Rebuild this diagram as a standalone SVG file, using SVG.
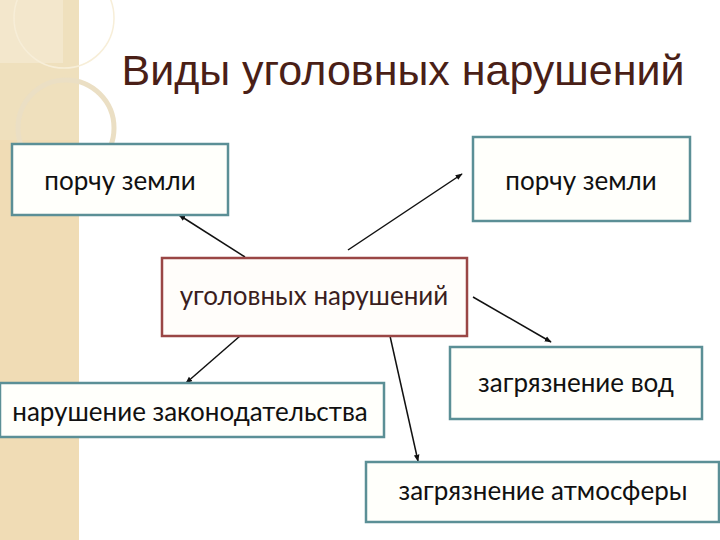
<svg xmlns="http://www.w3.org/2000/svg" width="720" height="540" viewBox="0 0 720 540">
<defs>
<style>
.box{fill:#fffffb;stroke:#5b8f96;stroke-width:2.5}
.center{fill:#fffdfa;stroke:#9a4645;stroke-width:2.5}
.lbl{font-family:Lato,"Open Sans","DejaVu Sans",sans-serif;font-size:26px;fill:#111;text-anchor:middle}
.conn{stroke:#111;stroke-width:1.5;fill:none;marker-end:url(#ah)}
</style>
<marker id="ah" viewBox="0 0 10 10" refX="9" refY="5" markerWidth="7" markerHeight="7" orient="auto" markerUnits="userSpaceOnUse">
<path d="M0,1 L10,5 L0,9 z" fill="#111"/>
</marker>
</defs>
<rect width="720" height="540" fill="#fff"/>
<g id="background">
<rect x="0" y="0" width="79" height="540" fill="#f0dcb5"/>
<rect x="0" y="0" width="79" height="140" fill="#efe0bd"/>
<rect x="0" y="0" width="63" height="63" fill="#f3e7cc"/>
<circle cx="64" cy="18" r="50" fill="none" stroke="#f7eed8" stroke-width="1.5"/>
<circle cx="66" cy="128" r="48" fill="none" stroke="#ebdfc4" stroke-width="5"/>
</g>
<text x="403" y="85" font-family="'Liberation Sans',Arial,sans-serif" font-size="43" fill="#4a1f17" text-anchor="middle">Виды уголовных нарушений</text>
<g id="connectors">
<line class="conn" x1="245" y1="257" x2="179" y2="215"/>
<line class="conn" x1="348" y1="250" x2="462" y2="174"/>
<line class="conn" x1="473" y1="297" x2="551" y2="342"/>
<line class="conn" x1="240" y1="336" x2="186" y2="383"/>
<line class="conn" x1="390" y1="336" x2="418" y2="461"/>
</g>
<g id="n1"><rect class="box" x="12" y="144" width="216" height="71"/><text class="lbl" x="120" y="190">порчу земли</text></g>
<g id="n2"><rect class="box" x="473" y="137" width="217" height="84"/><text class="lbl" x="581" y="190">порчу земли</text></g>
<g id="center"><rect class="center" x="162" y="258" width="305" height="78"/><text class="lbl" x="314" y="305" style="fill:#3a1e1e">уголовных нарушений</text></g>
<g id="n3"><rect class="box" x="450" y="347" width="252" height="72"/><text class="lbl" x="576" y="392">загрязнение вод</text></g>
<g id="n4"><rect class="box" x="0" y="383" width="384" height="54"/><text class="lbl" x="190" y="421">нарушение законодательства</text></g>
<g id="n5"><rect class="box" x="366" y="462" width="353" height="60"/><text class="lbl" x="543" y="500">загрязнение атмосферы</text></g>
</svg>
